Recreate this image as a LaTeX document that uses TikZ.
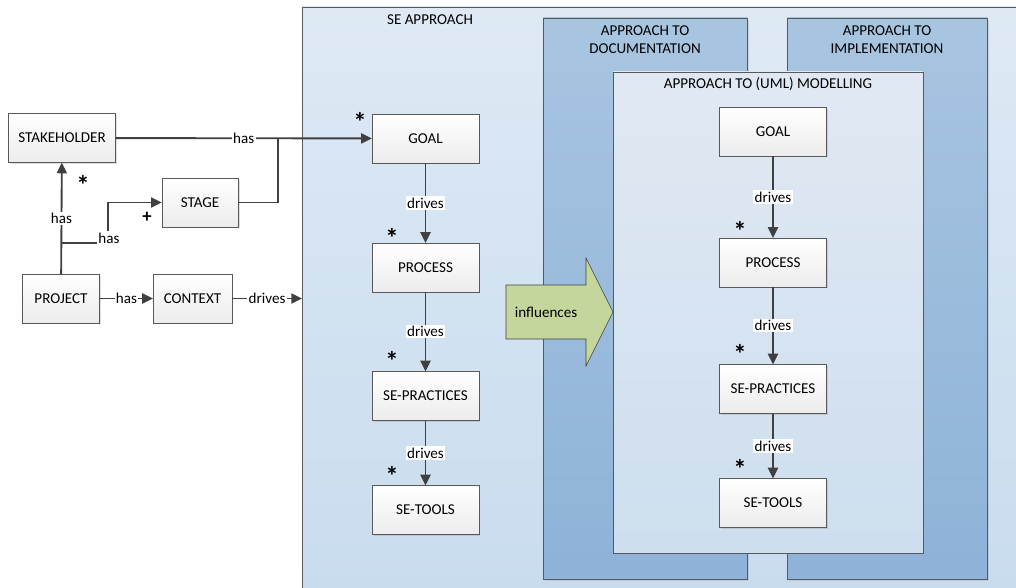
\documentclass[tikz,border=0pt]{standalone}
\usepackage{fontspec}
\setmainfont{Carlito}
\usetikzlibrary{arrows.meta,shadows}

\definecolor{frameGray}{RGB}{89,89,89}
\definecolor{lineGray}{RGB}{64,64,64}
\definecolor{seTop}{RGB}{222,233,244}
\definecolor{seBottom}{RGB}{200,219,238}
\definecolor{laneTop}{RGB}{168,197,224}
\definecolor{laneBottom}{RGB}{142,178,216}
\definecolor{umlTop}{RGB}{224,233,243}
\definecolor{umlBottom}{RGB}{206,222,238}
\definecolor{boxBottom}{RGB}{236,236,236}
\definecolor{influenceFill}{RGB}{196,214,155}

\tikzset{
  element/.style={draw=frameGray, top color=white, bottom color=boxBottom,
    minimum width=80pt, minimum height=36.5pt, inner sep=0pt,
    drop shadow={shadow xshift=1.2pt, shadow yshift=-1.2pt, opacity=0.25}},
  smallelement/.style={element, minimum width=58pt},
  link/.style={draw=lineGray, line width=1.4pt, -{Triangle[length=8pt,width=7.5pt]}},
  plainlink/.style={draw=lineGray, line width=1.4pt},
  lbl/.style={fill=white, inner sep=1pt},
  mult/.style={font=\fontsize{20}{20}\selectfont\bfseries, inner sep=0pt},
  lane/.style={draw=frameGray, top color=laneTop, bottom color=laneBottom,
    drop shadow={shadow xshift=1.5pt, shadow yshift=-1.5pt, opacity=0.2}}
}

\begin{document}
\begin{tikzpicture}[x=0.75pt,y=0.75pt,yscale=-1,xscale=1,
  every node/.append style={font=\fontsize{11.3}{13.5}\selectfont}]
\clip (0,0) rectangle (1016,588);

%Shape: Rectangle [id:seFrame]
\draw [draw=frameGray, top color=seTop, bottom color=seBottom] (302,7) rectangle (1040,610);
%Shape: Rectangle [id:docLane]
\draw [lane] (543,18) rectangle (747,579);
%Shape: Rectangle [id:implLane]
\draw [lane] (787,18) rectangle (987,579);
%Shape: Rectangle [id:umlFrame]
\draw [draw=frameGray, top color=umlTop, bottom color=umlBottom] (613,72) rectangle (923,553);
%Shape: Right Arrow [id:influenceArrow]
\draw [draw=lineGray, fill=influenceFill] (506,285) -- (586,285) -- (586,258) -- (613,312) -- (586,366) -- (586,339) -- (506,339) -- cycle;

% Text Node
\node (seTitle) at (430,20) {SE APPROACH};
% Text Node
\node [align=center] (docTitle) at (645,40) {APPROACH TO\\DOCUMENTATION};
% Text Node
\node [align=center] (implTitle) at (887,40) {APPROACH TO\\IMPLEMENTATION};
% Text Node
\node (umlTitle) at (768,84) {APPROACH TO (UML) MODELLING};
% Text Node
\node (influences) at (546,312) {influences};

% Elements outside the SE approach
\node [element] (stakeholder) at (62,138) {STAKEHOLDER};
\node [smallelement, minimum width=57pt] (stage) at (200,202.5) {STAGE};
\node [smallelement] (project) at (61,298.5) {PROJECT};
\node [smallelement, minimum width=59pt] (context) at (192.5,298.5) {CONTEXT};

% Elements of the SE approach
\node [element] (goal) at (425.5,138.5) {GOAL};
\node [element] (process) at (425.5,267.5) {PROCESS};
\node [element] (practices) at (425.5,396) {SE-PRACTICES};
\node [element] (tools) at (425.5,510) {SE-TOOLS};

% Elements of the modelling approach
\node [element] (umlGoal) at (773,131.5) {GOAL};
\node [element] (umlProcess) at (773,262.5) {PROCESS};
\node [element] (umlPractices) at (773,389) {SE-PRACTICES};
\node [element] (umlTools) at (773,503) {SE-TOOLS};

\coordinate (join) at (278,138);
\coordinate (fork) at (62,243);
\coordinate (bend) at (108,243);
\coordinate (seLeft) at (302,298.5);

% Connectors
\draw [link] (stakeholder) -- node [lbl] {has} (goal);
\draw [plainlink] (stage.east) -| (join);
\draw [link] (project) -- node [lbl] {has} (stakeholder);
\draw [link] (fork) -- (bend) |- (stage.west);
\node [lbl] (hasStage) at (109,238) {has};
\draw [link] (project) -- node [lbl] {has} (context);
\draw [link] (context) -- node [lbl] {drives} (seLeft);

\draw [link] (goal) -- node [lbl] {drives} (process);
\draw [link] (process) -- node [lbl] {drives} (practices);
\draw [link] (practices) -- node [lbl] {drives} (tools);

\draw [link] (umlGoal) -- node [lbl] {drives} (umlProcess);
\draw [link] (umlProcess) -- node [lbl] {drives} (umlPractices);
\draw [link] (umlPractices) -- node [lbl] {drives} (umlTools);

% Multiplicities
\node [mult] (mStake) at (83,185) {*};
\node [mult, font=\fontsize{14}{14}\selectfont\bfseries] (mStage) at (147,217) {+};
\node [mult] (mGoal) at (360,122) {*};
\node [mult] (mProcess) at (392,238) {*};
\node [mult] (mPractices) at (392,361) {*};
\node [mult] (mTools) at (392,476) {*};
\node [mult] (mUmlProcess) at (740,231) {*};
\node [mult] (mUmlPractices) at (740,354) {*};
\node [mult] (mUmlTools) at (740,469) {*};

\end{tikzpicture}
\end{document}
